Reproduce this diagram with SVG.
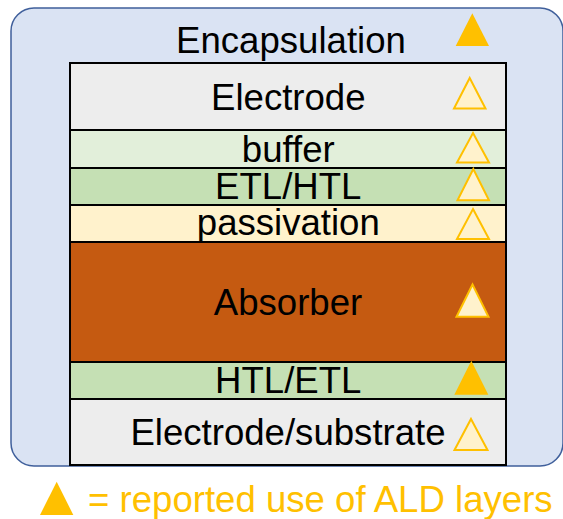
<svg xmlns="http://www.w3.org/2000/svg" width="563" height="519" viewBox="0 0 563 519">
<style>
text{font-family:"Liberation Sans",Arial,sans-serif;font-size:36.6px;fill:#000;text-anchor:middle}
.layer{stroke:#000;stroke-width:2}
.tri{fill:#FFF2CC;stroke:#FFC000;stroke-width:2;stroke-linejoin:miter}
.tri-f{fill:#FFC000;stroke:none}
</style>
<rect width="563" height="519" fill="#fff"/>
<g id="encapsulation">
<rect x="11" y="8" width="552" height="458" rx="23" ry="23" fill="#DAE3F3" stroke="#3F5F9B" stroke-width="1.5"/>
<text x="291" y="52.5">Encapsulation</text>
<polygon class="tri-f" points="472.3,13.3 489,46 455.7,46"/>
</g>
<g id="electrode">
<rect class="layer" x="70" y="63" width="436" height="67" fill="#EDEDED"/>
<text x="288.3" y="110">Electrode</text>
<polygon class="tri" points="469.7,78 485.5,108.5 454,108.5"/>
</g>
<g id="buffer">
<rect class="layer" x="70" y="130" width="436" height="38" fill="#E2EFDA"/>
<text x="288.3" y="161.5">buffer</text>
<polygon class="tri" points="473,133 489,162.5 457,162.5"/>
</g>
<g id="etl-htl">
<rect class="layer" x="70" y="168" width="436" height="37" fill="#C5E0B4"/>
<text x="288.3" y="198.5">ETL/HTL</text>
<polygon class="tri" points="473.3,169 489,200.3 457.5,200.3"/>
</g>
<g id="passivation">
<rect class="layer" x="70" y="205" width="436" height="37" fill="#FFF2CC"/>
<text x="288.3" y="235">passivation</text>
<polygon class="tri" points="473,209 489,239 457,239"/>
</g>
<g id="absorber">
<rect class="layer" x="70" y="242" width="436" height="120" fill="#C55A11"/>
<text x="288" y="315">Absorber</text>
<polygon class="tri" points="472.5,284.5 488.5,316.8 456.5,316.8"/>
</g>
<g id="htl-etl">
<rect class="layer" x="70" y="362" width="436" height="37" fill="#C5E0B4"/>
<text x="288.3" y="393.3">HTL/ETL</text>
<polygon class="tri-f" points="471.3,360.7 488.3,394.7 454.3,394.7"/>
</g>
<g id="electrode-substrate">
<rect class="layer" x="70" y="399" width="436" height="66" fill="#EDEDED"/>
<text x="288" y="445">Electrode/substrate</text>
<polygon class="tri" points="471,419 487.5,450 454.5,450"/>
</g>
<g id="legend">
<polygon class="tri-f" points="56.7,481.7 73.3,515 40,515"/>
<text x="88" y="512" style="text-anchor:start;fill:#FFC000">= reported use of ALD layers</text>
</g>
<g id="connectors"></g>
</svg>
